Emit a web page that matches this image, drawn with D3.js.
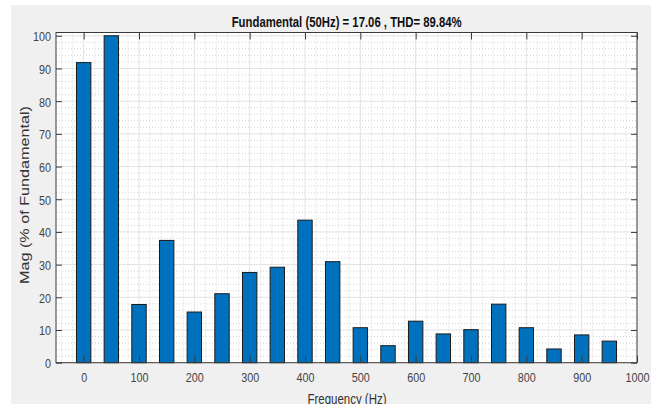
<!doctype html>
<html>
<head>
<meta charset="utf-8">
<title>Harmonic spectrum</title>
<script src="https://cdnjs.cloudflare.com/ajax/libs/d3/7.8.5/d3.min.js"></script>
<style>
  body { margin: 0; background: #fff; }
  text { font-family: "Liberation Sans", Arial, sans-serif; }
</style>
</head>
<body>
<div id="chart"></div>
<script>
// data
const freqs = [0, 50, 100, 150, 200, 250, 300, 350, 400, 450, 500, 550, 600, 650, 700, 750, 800, 850, 900, 950];
const mags = [91.8, 100, 17.8, 37.4, 15.5, 21.1, 27.6, 29.2, 43.6, 30.9, 10.7, 5.2, 12.7, 8.8, 10.1, 17.9, 10.7, 4.2, 8.5, 6.6];
const xTicks = [0, 100, 200, 300, 400, 500, 600, 700, 800, 900, 1000];
const yTicks = [0, 10, 20, 30, 40, 50, 60, 70, 80, 90, 100];
const titleText = "Fundamental (50Hz) = 17.06 , THD= 89.84%";

const W = 655, H = 408;
const pLeft = 56, pRight = 637, pTop = 32.5, pBottom = 362.7;

const svg = d3.select('#chart').append('svg')
  .attr('width', W).attr('height', H);

svg.append('clipPath').attr('id', 'fig')
  .append('rect').attr('x', 11).attr('y', 5).attr('width', 640).attr('height', 399);

const fig = svg.append('g').attr('clip-path', 'url(#fig)');
fig.append('rect').attr('x', 11).attr('y', 5).attr('width', 640).attr('height', 399)
  .attr('fill', '#f0f0f0');

const x = d3.scaleLinear().domain([-50, 1000]).range([pLeft, pRight]);
const y = d3.scaleLinear().domain([0, 101]).range([pBottom, pTop]);

// plot area
fig.append('rect').attr('x', pLeft).attr('y', pTop)
  .attr('width', pRight - pLeft).attr('height', pBottom - pTop).attr('fill', '#fff');

// minor grid
const grid = fig.append('g');
grid.selectAll('.mx').data(d3.range(-40, 1000, 20).filter(v => v % 100 != 0))
  .join('line')
  .attr('x1', d => x(d)).attr('x2', d => x(d)).attr('y1', pTop).attr('y2', pBottom)
  .attr('stroke', '#d4d4d4').attr('stroke-dasharray', '1,2');
grid.selectAll('.my').data(d3.range(2, 101, 2).filter(v => v % 10 != 0))
  .join('line')
  .attr('y1', d => y(d)).attr('y2', d => y(d)).attr('x1', pLeft).attr('x2', pRight)
  .attr('stroke', '#d4d4d4').attr('stroke-dasharray', '1,2');

// major grid
grid.selectAll('.gx').data(xTicks.slice(0, -1)).join('line')
  .attr('x1', d => x(d)).attr('x2', d => x(d)).attr('y1', pTop).attr('y2', pBottom)
  .attr('stroke', '#e2e2e2');
grid.selectAll('.gy').data(yTicks).join('line')
  .attr('y1', d => y(d)).attr('y2', d => y(d)).attr('x1', pLeft).attr('x2', pRight)
  .attr('stroke', '#e2e2e2');

// bars
const half = 13;
fig.append('g').selectAll('rect')
  .data(freqs.map((f, i) => ({ f: f, v: mags[i] })))
  .join('rect')
  .attr('x', d => x(d.f - half))
  .attr('width', d => x(d.f + half) - x(d.f - half))
  .attr('y', d => y(d.v))
  .attr('height', d => y(0) - y(d.v))
  .attr('fill', '#0072bd')
  .attr('stroke', '#1a1a1a')
  .attr('stroke-width', 1);

// axes, ticks pointing inward
const axColor = '#3a3a3a';
const xAxis = fig.append('g').attr('transform', `translate(0,${pBottom})`)
  .call(d3.axisBottom(x).tickValues(xTicks).tickFormat(d3.format('d'))
    .tickSizeInner(-7).tickSizeOuter(0).tickPadding(10));
const yAxis = fig.append('g').attr('transform', `translate(${pLeft},0)`)
  .call(d3.axisLeft(y).tickValues(yTicks).tickSizeInner(-6).tickSizeOuter(0).tickPadding(5));
fig.append('g').attr('transform', `translate(0,${pTop})`)
  .call(d3.axisTop(x).tickValues(xTicks).tickSizeInner(-7).tickSizeOuter(0).tickFormat(''));
fig.append('g').attr('transform', `translate(${pRight},0)`)
  .call(d3.axisRight(y).tickValues(yTicks).tickSizeInner(-6).tickSizeOuter(0).tickFormat(''));

fig.selectAll('.domain').remove();
fig.selectAll('.tick line').attr('stroke', axColor);
[xAxis, yAxis].forEach(a => a.selectAll('text')
  .attr('fill', '#444').style('font-size', '13.5px')
  .attr('transform', 'scale(0.8,1)'));
yAxis.selectAll('text').attr('x', -5 / 0.8).attr('dy', '0.36em');
xAxis.selectAll('text').attr('dy', '0.71em');

fig.append('rect').attr('x', pLeft).attr('y', pTop)
  .attr('width', pRight - pLeft).attr('height', pBottom - pTop)
  .attr('fill', 'none').attr('stroke', axColor).attr('stroke-width', 1);

// labels
fig.append('text').attr('x', 346.7).attr('y', 26.5)
  .attr('text-anchor', 'middle').attr('font-weight', 'bold')
  .style('font-size', '14px').attr('fill', '#111')
  .attr('textLength', 230).attr('lengthAdjust', 'spacingAndGlyphs')
  .text(titleText);

fig.append('text').attr('x', 347).attr('y', 404)
  .attr('text-anchor', 'middle').style('font-size', '14px').attr('fill', '#333')
  .attr('textLength', 79).attr('lengthAdjust', 'spacingAndGlyphs')
  .text('Frequency (Hz)');

fig.append('text').attr('transform', 'translate(29,195) rotate(-90)')
  .attr('text-anchor', 'middle').style('font-size', '13px').attr('fill', '#333')
  .attr('textLength', 178).attr('lengthAdjust', 'spacingAndGlyphs')
  .text('Mag (% of Fundamental)');
</script>
</body>
</html>
